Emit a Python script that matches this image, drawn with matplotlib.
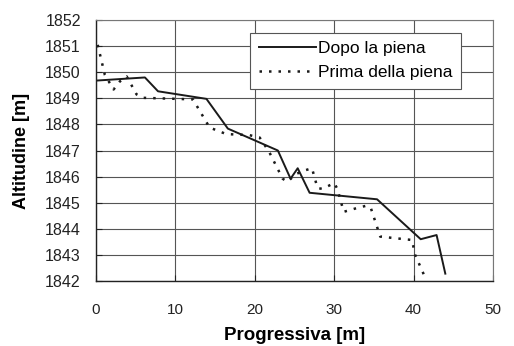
import matplotlib
matplotlib.use("Agg")
import matplotlib.pyplot as plt

plt.rcParams['font.family'] = ['Liberation Sans', 'DejaVu Sans']

# Dopo la piena (after flood)
dopo_x = [0.0, 6.15, 7.8, 13.9, 16.6, 22.9, 24.5, 25.4, 26.9, 35.4, 40.9, 42.9, 44.0]
dopo_y = [1849.68, 1849.8, 1849.27, 1848.98, 1847.84, 1847.0, 1845.92, 1846.32, 1845.38, 1845.13, 1843.6, 1843.76, 1842.28]

# Prima della piena (before flood)
prima_x = [0.2, 1.1, 2.2, 3.0, 3.85, 5.1, 5.9, 12.2, 14.3, 16.4, 19.3, 20.6, 21.8, 23.5, 24.1,
           25.2, 26.2, 27.2, 27.9, 28.5, 30.0, 30.4, 31.2, 32.7, 34.0, 34.6, 35.8, 39.8, 40.2, 41.3]
prima_y = [1851.05, 1849.9, 1849.34, 1849.65, 1849.84, 1849.15, 1849.02, 1848.96, 1847.88, 1847.63,
           1847.59, 1847.5, 1846.95, 1845.92, 1845.8, 1846.1, 1846.23, 1846.32, 1845.56, 1845.53,
           1845.75, 1845.53, 1844.65, 1844.78, 1844.88, 1844.81, 1843.7, 1843.57, 1843.0, 1842.24]

xticks = [0, 10, 20, 30, 40, 50]
yticks = list(range(1842, 1853))

fig = plt.figure(figsize=(5.14, 3.46), dpi=100)
ax = fig.add_axes([0.187, 0.188, 0.772, 0.754])

ax.plot(dopo_x, dopo_y, color='#1a1a1a', lw=1.4, label='Dopo la piena')
ax.plot(prima_x, prima_y, color='#1a1a1a', lw=1.8, linestyle=(0, (1.0, 2.8)), label='Prima della piena')

ax.set_xlim(0, 50)
ax.set_ylim(1842, 1852)
ax.set_xticks(xticks)
ax.set_yticks(yticks)
ax.grid(True, color='#555555', lw=0.8)
ax.set_axisbelow(True)
for s in ['top', 'right']:
    ax.spines[s].set_color('#777777')
    ax.spines[s].set_linewidth(0.8)
for s in ['left', 'bottom']:
    ax.spines[s].set_color('#222222')
    ax.spines[s].set_linewidth(1.0)
ax.tick_params(direction='in', length=4, colors='#222222')
ax.tick_params(axis='y', pad=11, labelsize=11.5)
ax.tick_params(axis='x', pad=16, labelsize=11)

ax.set_xlabel('Progressiva [m]', fontsize=13.5, fontweight='bold')
ax.xaxis.label.set_va('baseline')
ax.xaxis.set_label_coords(0.5, (281 - 340) / 261)
ax.set_ylabel('Altitudine [m]', fontsize=13, fontweight='bold')
ax.yaxis.label.set_va('center')
ax.yaxis.set_label_coords((21 - 96) / 397, 0.5)

leg = ax.legend(loc='upper left', bbox_to_anchor=(0.388, 0.952), fontsize=12.5,
                frameon=True, fancybox=False, edgecolor='#555555', framealpha=1,
                handlelength=3.3, handletextpad=0.1, borderpad=0.5, labelspacing=0.5,
                borderaxespad=0)
leg.get_frame().set_linewidth(0.8)

fig.savefig('out.png', dpi=100)
